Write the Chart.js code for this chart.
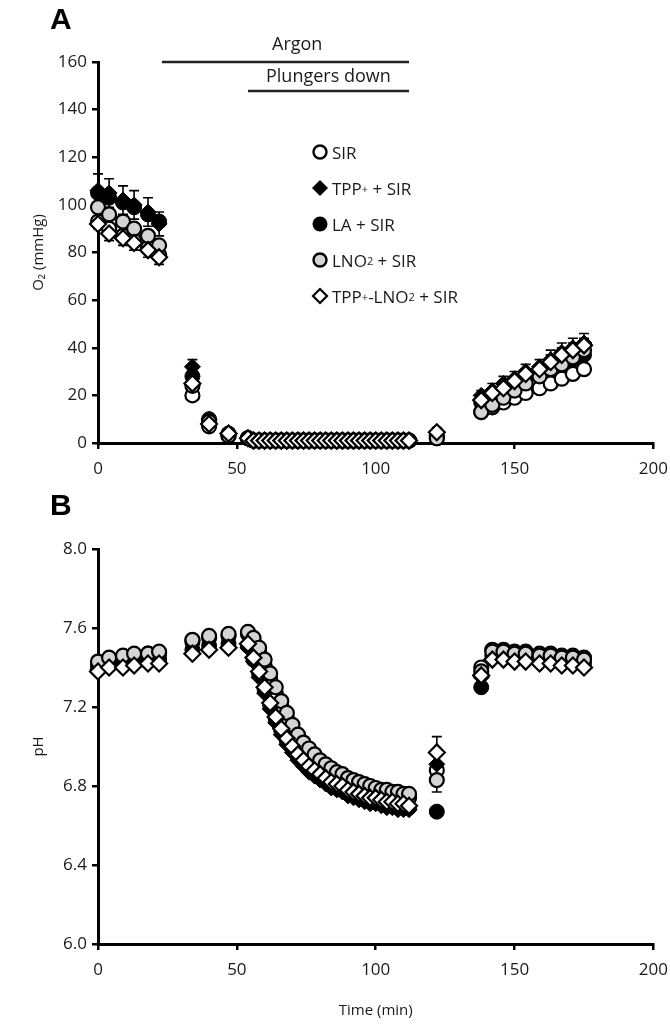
<!DOCTYPE html>
<html>
<head>
<meta charset="utf-8">
<script src="https://cdn.jsdelivr.net/npm/chart.js@4.4.1/dist/chart.umd.min.js"></script>
<style>
  body { margin: 0; background: #fff; width: 670px; height: 1024px; position: relative; overflow: hidden;
         font-family: "Open Sans", sans-serif; color: #1a1a1a; }
  .panel { position: absolute; left: 0; width: 678px; }
  #wrapA { top: 0; height: 490px; }
  #wrapB { top: 490px; height: 534px; }
  .letter { position: absolute; font: bold 30px "Liberation Sans", Arial, sans-serif; color: #000; }
  .note { position: absolute; font-size: 18px; white-space: nowrap; }
  .legend { position: absolute; left: 311px; top: 134px; font-size: 17px; }
  .legend .row { height: 36px; display: flex; align-items: center; white-space: nowrap; }
  .legend svg { margin-right: 3px; }
  sub { font-size: 11px; vertical-align: -5px; }
  sup { font-size: 11px; vertical-align: 6px; }
</style>
</head>
<body>
<div class="panel" id="wrapA"><canvas id="chartA"></canvas></div>
<div class="panel" id="wrapB"><canvas id="chartB"></canvas></div>

<div class="letter" style="left:50px;top:2px;">A</div>
<div class="letter" style="left:50px;top:488px;">B</div>
<div class="note" style="left:272px;top:31px;">Argon</div>
<div class="note" style="left:266px;top:63px;">Plungers down</div>

<div class="legend">
  <div class="row"><svg width="18" height="18"><circle cx="9" cy="9" r="6.5" fill="#fff" stroke="#000" stroke-width="2.4"/></svg>SIR</div>
  <div class="row"><svg width="18" height="18"><polygon points="9,1 17,9 9,17 1,9" fill="#000"/></svg>TPP<sup>+</sup>&nbsp;+ SIR</div>
  <div class="row"><svg width="18" height="18"><circle cx="9" cy="9" r="7.5" fill="#000"/></svg>LA + SIR</div>
  <div class="row"><svg width="18" height="18"><circle cx="9" cy="9" r="6.5" fill="#d4d4d4" stroke="#000" stroke-width="2.4"/></svg>LNO<sub>2</sub>&nbsp;+ SIR</div>
  <div class="row"><svg width="18" height="18"><polygon points="9,2 16,9 9,16 2,9" fill="#fff" stroke="#000" stroke-width="2.2"/></svg>TPP<sup>+</sup>-LNO<sub>2</sub>&nbsp;+ SIR</div>
</div>

<script>
// -------------------------------
// DATA
// -------------------------------
const timeMin = [0, 4, 9, 13, 18, 22,
  34, 40, 47,
  54, 56, 58, 60, 62, 64, 66, 68, 70, 72, 74, 76, 78, 80, 82, 84, 86, 88, 90, 92,
  94, 96, 98, 100, 102, 104, 106, 108, 110, 112,
  122,
  138, 142, 146, 150, 154, 159, 163, 167, 171, 175];

const xTicks = [0, 50, 100, 150, 200];

// Panel A: O2 (mmHg)
const o2Sir = [93, 90, 87, 85, 82, 79,
  20, 7, 3,
  2, 1, 1, 1, 1, 1, 1, 1, 1, 1, 1, 1, 1, 1, 1, 1, 1, 1, 1, 1,
  1, 1, 1, 1, 1, 1, 1, 1, 1, 1,
  2,
  13, 15, 17, 19, 21, 23, 25, 27, 29, 31];
const o2Tpp = [106, 105, 102, 100, 97, 92,
  32, 10, 4,
  2, 1, 1, 1, 1, 1, 1, 1, 1, 1, 1, 1, 1, 1, 1, 1, 1, 1, 1, 1,
  1, 1, 1, 1, 1, 1, 1, 1, 1, 1,
  3,
  20, 22, 25, 27, 30, 32, 35, 38, 40, 42];
const o2La = [105, 103, 101, 99, 96, 93,
  28, 10, 4,
  2, 1, 1, 1, 1, 1, 1, 1, 1, 1, 1, 1, 1, 1, 1, 1, 1, 1, 1, 1,
  1, 1, 1, 1, 1, 1, 1, 1, 1, 1,
  3,
  17, 19, 22, 24, 27, 29, 31, 33, 35, 37];
const o2Lno2 = [99, 96, 93, 90, 87, 83,
  24, 9, 3,
  2, 1, 1, 1, 1, 1, 1, 1, 1, 1, 1, 1, 1, 1, 1, 1, 1, 1, 1, 1,
  1, 1, 1, 1, 1, 1, 1, 1, 1, 1,
  2,
  13, 16, 19, 22, 25, 28, 31, 33, 36, 39];
const o2TppLno2 = [92, 88, 86, 84, 81, 78,
  25, 8, 4,
  2, 1, 1, 1, 1, 1, 1, 1, 1, 1, 1, 1, 1, 1, 1, 1, 1, 1, 1, 1,
  1, 1, 1, 1, 1, 1, 1, 1, 1, 1,
  4.5,
  18, 21, 23, 26, 29, 31, 34, 37, 39, 41];

// error bars (SEM) for panel A, 0 = not shown
const o2TppErr = [7, 6, 6, 6, 6, 5,
  3, 2, 1,
  0, 0, 0, 0, 0, 0, 0, 0, 0, 0, 0, 0, 0, 0, 0, 0, 0, 0, 0, 0,
  0, 0, 0, 0, 0, 0, 0, 0, 0, 0,
  1,
  2, 3, 3, 3, 3, 3, 4, 4, 4, 4];
const o2TppLno2Err = [2, 3, 3, 3, 3, 3,
  2, 2, 1,
  0, 0, 0, 0, 0, 0, 0, 0, 0, 0, 0, 0, 0, 0, 0, 0, 0, 0, 0, 0,
  0, 0, 0, 0, 0, 0, 0, 0, 0, 0,
  2,
  2, 2, 2, 2, 2, 2, 3, 3, 3, 3];

// Panel B: pH
const phSir = [7.42, 7.44, 7.45, 7.46, 7.47, 7.47,
  7.53, 7.55, 7.56,
  7.57, 7.53, 7.48, 7.41, 7.34, 7.27, 7.20, 7.14, 7.08, 7.03, 6.99, 6.96, 6.93, 6.91, 6.89,
  6.87, 6.85, 6.84, 6.82, 6.81, 6.80, 6.79, 6.78, 6.77, 6.76, 6.76, 6.75, 6.75, 6.74, 6.74,
  6.88,
  7.40, 7.49, 7.49, 7.48, 7.48, 7.47, 7.47, 7.46, 7.46, 7.45];
const phTpp = [7.39, 7.40, 7.41, 7.41, 7.42, 7.42,
  7.47, 7.49, 7.50,
  7.50, 7.43, 7.35, 7.27, 7.19, 7.12, 7.06, 7.01, 6.97, 6.93, 6.90, 6.87, 6.85, 6.83, 6.81,
  6.79, 6.78, 6.77, 6.75, 6.74, 6.73, 6.72, 6.71, 6.71, 6.70, 6.69, 6.69, 6.68, 6.68, 6.68,
  6.91,
  7.35, 7.44, 7.44, 7.43, 7.43, 7.42, 7.42, 7.41, 7.41, 7.40];
const phLa = [7.40, 7.41, 7.42, 7.43, 7.43, 7.44,
  7.49, 7.51, 7.52,
  7.51, 7.44, 7.37, 7.29, 7.21, 7.14, 7.08, 7.03, 6.99, 6.95, 6.92, 6.89, 6.87, 6.85, 6.83,
  6.81, 6.80, 6.79, 6.77, 6.76, 6.75, 6.74, 6.73, 6.73, 6.72, 6.71, 6.71, 6.70, 6.70, 6.69,
  6.67,
  7.30, 7.46, 7.46, 7.45, 7.45, 7.44, 7.44, 7.43, 7.43, 7.42];
const phLno2 = [7.43, 7.45, 7.46, 7.47, 7.47, 7.48,
  7.54, 7.56, 7.57,
  7.58, 7.55, 7.50, 7.44, 7.37, 7.30, 7.23, 7.17, 7.11, 7.06, 7.02, 6.99, 6.96, 6.93, 6.91,
  6.89, 6.87, 6.86, 6.84, 6.83, 6.82, 6.81, 6.80, 6.79, 6.78, 6.78, 6.77, 6.77, 6.76, 6.76,
  6.83,
  7.38, 7.48, 7.48, 7.47, 7.47, 7.46, 7.46, 7.45, 7.45, 7.44];
const phTppLno2 = [7.38, 7.40, 7.40, 7.41, 7.42, 7.42,
  7.47, 7.49, 7.50,
  7.52, 7.45, 7.38, 7.30, 7.22, 7.15, 7.09, 7.04, 7.00, 6.96, 6.93, 6.90, 6.88, 6.86, 6.84,
  6.82, 6.81, 6.80, 6.78, 6.77, 6.76, 6.75, 6.74, 6.74, 6.73, 6.72, 6.72, 6.71, 6.71, 6.70,
  6.97,
  7.36, 7.44, 7.44, 7.43, 7.43, 7.42, 7.42, 7.41, 7.41, 7.40];

const phLno2Err = [0, 0, 0, 0, 0, 0,
  0, 0, 0,
  0, 0, 0, 0, 0, 0, 0, 0, 0, 0, 0, 0, 0, 0, 0,
  0, 0, 0, 0, 0, 0, 0, 0, 0, 0, 0, 0, 0, 0, 0.02,
  0.06,
  0, 0, 0, 0, 0, 0, 0, 0, 0, 0];
const phTppLno2Err = [0, 0, 0, 0, 0, 0,
  0, 0, 0,
  0, 0, 0, 0, 0, 0, 0, 0, 0, 0, 0, 0, 0, 0, 0,
  0, 0, 0, 0, 0, 0, 0, 0, 0, 0, 0, 0, 0, 0, 0.02,
  0.08,
  0, 0, 0, 0, 0, 0, 0, 0, 0, 0];

// -------------------------------
// STYLES
// -------------------------------
const GREY = "#d4d4d4";
const TEXT = "#1a1a1a";
const AXIS_FONT = { family: "'Open Sans', sans-serif", size: 17 };
const TITLE_FONT = { family: "'Open Sans', sans-serif", size: 15 };

function series(label, values, errs, style, order) {
  return {
    label: label,
    data: timeMin.map((t, i) => ({ x: t, y: values[i] })),
    errors: errs,
    showLine: false,
    clip: false,
    order: order,
    ...style,
  };
}

const sirStyle = { pointStyle: "circle", pointRadius: 7, backgroundColor: "#fff", borderColor: "#000", borderWidth: 2.2 };
const tppStyle = { pointStyle: "rectRot", pointRadius: 8, backgroundColor: "#000", borderColor: "#000", borderWidth: 1 };
const laStyle = { pointStyle: "circle", pointRadius: 7.5, backgroundColor: "#000", borderColor: "#000", borderWidth: 1 };
const lno2Style = { pointStyle: "circle", pointRadius: 7, backgroundColor: GREY, borderColor: "#000", borderWidth: 2.2 };
const tppLno2Style = { pointStyle: "rectRot", pointRadius: 8, backgroundColor: "#fff", borderColor: "#000", borderWidth: 2.2 };

// -------------------------------
// PLUGINS
// -------------------------------
const errorBars = {
  id: "errorBars",
  beforeDatasetsDraw(chart) {
    const { ctx, scales: { x, y } } = chart;
    ctx.save();
    ctx.strokeStyle = "#000";
    ctx.lineWidth = 1.6;
    chart.data.datasets.forEach((ds) => {
      if (!ds.errors) return;
      ds.data.forEach((p, i) => {
        const e = ds.errors[i];
        if (!e) return;
        const px = x.getPixelForValue(p.x);
        const top = y.getPixelForValue(p.y + e);
        const bot = y.getPixelForValue(p.y - e);
        ctx.beginPath();
        ctx.moveTo(px, top); ctx.lineTo(px, bot);
        ctx.moveTo(px - 5, top); ctx.lineTo(px + 5, top);
        ctx.moveTo(px - 5, bot); ctx.lineTo(px + 5, bot);
        ctx.stroke();
      });
    });
    ctx.restore();
  },
};

// treatment bars above panel A: [start, end, O2 level]
const argonBar = [23, 112, 160];
const plungerBar = [54, 112, 148];

const treatmentLines = {
  id: "treatmentLines",
  afterDraw(chart) {
    const { ctx, scales: { x, y } } = chart;
    ctx.save();
    ctx.strokeStyle = "#222";
    ctx.lineWidth = 2.5;
    [argonBar, plungerBar].forEach((b) => {
      const yy = Math.round(y.getPixelForValue(b[2]));
      ctx.beginPath();
      ctx.moveTo(x.getPixelForValue(b[0]), yy);
      ctx.lineTo(x.getPixelForValue(b[1]), yy);
      ctx.stroke();
    });
    ctx.restore();
  },
};

// -------------------------------
// CHARTS
// -------------------------------
function axisX(showTitle, height) {
  return {
    type: "linear",
    min: 0,
    max: 200,
    afterBuildTicks: (s) => { s.ticks = xTicks.map((v) => ({ value: v })); },
    ticks: { color: TEXT, font: AXIS_FONT, padding: 10 },
    grid: { drawOnChartArea: false, drawTicks: true, tickLength: 6, color: "#000", lineWidth: 2.5 },
    border: { display: true, color: "#000", width: 3 },
    title: { display: showTitle, text: "Time (min)", color: TEXT, font: TITLE_FONT, padding: { top: 5 } },
    afterFit: (s) => { s.height = height; },
  };
}

function axisY(min, max, step, title, fmt) {
  return {
    min: min,
    max: max,
    ticks: { stepSize: step, color: TEXT, font: AXIS_FONT, padding: 5, callback: fmt },
    grid: { drawOnChartArea: false, drawTicks: true, tickLength: 6, color: "#000", lineWidth: 2.5 },
    border: { display: true, color: "#000", width: 3 },
    title: { display: true, text: title, color: TEXT, font: TITLE_FONT, padding: 0 },
    afterFit: (s) => { s.width = 68; },
  };
}

const commonOpts = {
  responsive: true,
  maintainAspectRatio: false,
  animation: false,
  plugins: { legend: { display: false }, tooltip: { enabled: false } },
};

new Chart(document.getElementById("chartA"), {
  type: "scatter",
  data: {
    datasets: [
      series("SIR", o2Sir, null, sirStyle, 4),
      series("TPP+ + SIR", o2Tpp, o2TppErr, tppStyle, 3),
      series("LA + SIR", o2La, null, laStyle, 2),
      series("LNO2 + SIR", o2Lno2, null, lno2Style, 1),
      series("TPP+-LNO2 + SIR", o2TppLno2, o2TppLno2Err, tppLno2Style, 0),
    ],
  },
  options: {
    ...commonOpts,
    layout: { padding: { left: 30, top: 62, right: 0, bottom: 0 } },
    scales: {
      x: axisX(false, 47),
      y: axisY(0, 160, 20, "O\u2082 (mmHg)", (v) => v),
    },
  },
  plugins: [errorBars, treatmentLines],
});

new Chart(document.getElementById("chartB"), {
  type: "scatter",
  data: {
    datasets: [
      series("SIR", phSir, null, sirStyle, 4),
      series("TPP+ + SIR", phTpp, null, tppStyle, 3),
      series("LA + SIR", phLa, null, laStyle, 2),
      series("LNO2 + SIR", phLno2, phLno2Err, lno2Style, 1),
      series("TPP+-LNO2 + SIR", phTppLno2, phTppLno2Err, tppLno2Style, 0),
    ],
  },
  options: {
    ...commonOpts,
    layout: { padding: { left: 30, top: 59, right: 0, bottom: 0 } },
    scales: {
      x: axisX(true, 80),
      y: axisY(6.0, 8.0, 0.4, "pH", (v) => Number(v).toFixed(1)),
    },
  },
  plugins: [errorBars],
});
</script>
</body>
</html>
